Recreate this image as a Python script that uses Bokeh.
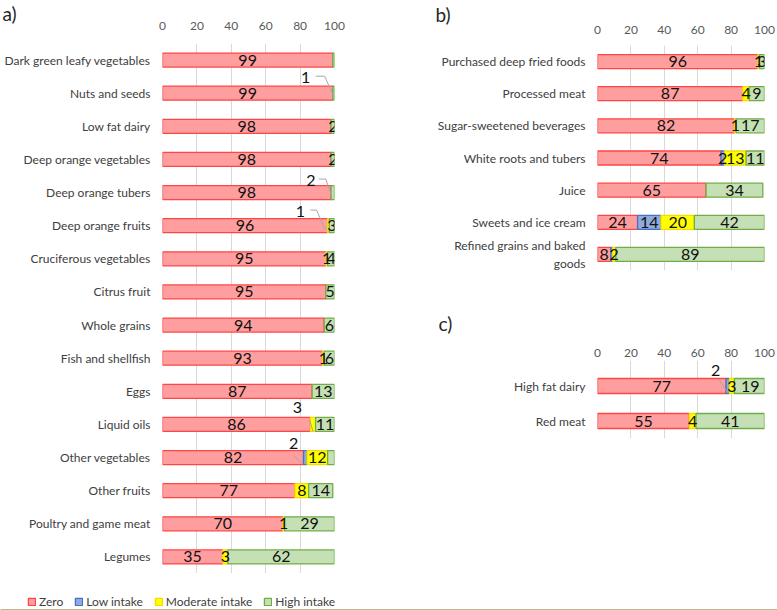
import numpy as np
from bokeh.plotting import figure
from bokeh.layouts import row, column
from bokeh.models import (ColumnDataSource, Range1d, Legend, LegendItem, FixedTicker)
from bokeh.embed import file_html
from bokeh.resources import INLINE
from bokeh.core.properties import value

# ---------------- data ----------------
series_names = ["Zero", "Low intake", "Moderate intake", "High intake"]
tick_values = [0, 20, 40, 60, 80, 100]

cats_a = ["Dark green leafy vegetables", "Nuts and seeds", "Low fat dairy",
          "Deep orange vegetables", "Deep orange tubers", "Deep orange fruits",
          "Cruciferous vegetables", "Citrus fruit", "Whole grains",
          "Fish and shellfish", "Eggs", "Liquid oils", "Other vegetables",
          "Other fruits", "Poultry and game meat", "Legumes"]
zero_a = [99, 99, 98, 98, 98, 96, 95, 95, 94, 93, 87, 86, 82, 77, 70, 35]
low_a = [0, 0, 0, 0, 0, 0, 0, 0, 0, 0, 0, 0, 2, 0, 0, 0]
mod_a = [0, 0, 0, 0, 0, 1, 1, 0, 0, 1, 0, 3, 12, 8, 1, 3]
high_a = [1, 1, 2, 2, 2, 3, 4, 5, 6, 6, 13, 11, 4, 14, 29, 62]

cats_b = ["Purchased deep fried foods", "Processed meat", "Sugar-sweetened beverages",
          "White roots and tubers", "Juice", "Sweets and ice cream",
          "Refined grains and baked\ngoods"]
zero_b = [96, 87, 82, 74, 65, 24, 8]
low_b = [0, 0, 0, 2, 0, 14, 1]
mod_b = [1, 4, 1, 13, 0, 20, 2]
high_b = [3, 9, 17, 11, 34, 42, 89]

cats_c = ["High fat dairy", "Red meat"]
zero_c = [77, 55]
low_c = [2, 0]
mod_c = [3, 4]
high_c = [19, 41]

# ---------------- style ----------------
FILLS = ["#FF9E9E", "#8FAADC", "#FFFF00", "#C5E0B4"]
LINES = ["#FF4545", "#4472C4", "#F5DC00", "#70AD47"]
FONT = "Lato"

# labels that are not printed inside the bar (row, series)
hidden_a = [("Dark green leafy vegetables", 3), ("Other vegetables", 3)]
hidden_b = [("Refined grains and baked\ngoods", 1)]
hidden_c = []
# callout labels: (row, series, label dx px, label dy px, leader points px), relative to segment centre
callouts_a = [
    ("Nuts and seeds", 3, -28, -16, [(-18, -17), (-9, -17), (0, 3)]),
    ("Deep orange tubers", 3, -22, -12.5, [(-14, -13.5), (-7, -13.5), (-1, 4)]),
    ("Deep orange fruits", 2, -28, -14.6, [(-18, -15.6), (-12, -15.6), (-3, 4.4)]),
    ("Liquid oils", 2, -15.5, -17, [(-3.5, -5), (0, 7)]),
    ("Other vegetables", 1, -11.5, -14, [(-11.5, -2), (-3, 6)]),
]
callouts_b = []
callouts_c = [
    ("High fat dairy", 1, -12, -15.5, [(-9, -7), (0, 7)]),
]


def panel(cats, series_vals, hidden, callouts, W, H, fl, fw, ft, ppy, extra_top,
          bar_px, tick_standoff, tag, tag_offset, tag_standoff):
    n = len(cats)
    ppx = fw / 100.0
    fh = n * ppy + extra_top
    ypos = [n - 1 - i for i in range(n)]
    p = figure(width=W, height=H, x_range=Range1d(0, 100),
               y_range=Range1d(-0.5, n - 0.5 + extra_top / ppy),
               x_axis_location="above", output_backend="svg", toolbar_location=None,
               min_border_left=fl, min_border_right=W - fl - fw,
               min_border_top=ft, min_border_bottom=int(round(H - ft - fh)))
    p.outline_line_color = None
    p.xaxis.ticker = FixedTicker(ticks=tick_values)
    p.xgrid.ticker = FixedTicker(ticks=tick_values)
    p.xgrid.grid_line_color = "#D9D9D9"
    p.ygrid.visible = False
    p.yaxis.ticker = FixedTicker(ticks=ypos)
    p.yaxis.major_label_overrides = {y: c for y, c in zip(ypos, cats)}
    for ax in (p.xaxis[0], p.yaxis[0]):
        ax.axis_line_color = None
        ax.major_tick_line_color = None
        ax.minor_tick_line_color = None
        ax.major_tick_out = 0
        ax.major_tick_in = 0
        ax.minor_tick_out = 0
        ax.minor_tick_in = 0
        ax.major_label_text_font = FONT
        ax.major_label_text_color = "#595959"
    p.xaxis.major_label_text_font_size = "12px"
    p.xaxis.major_label_standoff = tick_standoff
    p.yaxis.major_label_text_font_size = "12px"
    p.yaxis.major_label_text_color = "#404040"
    p.yaxis.major_label_standoff = 12

    # panel tag as title
    p.title.text = tag
    p.title.align = "left"
    p.title.offset = tag_offset
    p.title.standoff = tag_standoff
    p.title.vertical_align = "bottom"
    p.title.text_font = FONT
    p.title.text_font_size = "19px"
    p.title.text_font_style = "normal"
    p.title.text_color = "#262626"

    cum = np.zeros(n)
    seg_centre = {}
    for s, vals in enumerate(series_vals):
        v = np.array(vals, dtype=float)
        left = cum.copy()
        right = cum + v
        keep = v > 0
        src = ColumnDataSource(dict(y=[y for y, k in zip(ypos, keep) if k],
                                    left=left[keep], right=right[keep]))
        p.hbar(y="y", left="left", right="right", height=bar_px / ppy, source=src,
               fill_color=FILLS[s], line_color=LINES[s], line_width=1.3)
        for i, c in enumerate(cats):
            seg_centre[(c, s)] = ((left[i] + right[i]) / 2.0, ypos[i], int(v[i]))
        cum = right

    # in-bar value labels
    tx, ty, tt = [], [], []
    call_keys = [(c[0], c[1]) for c in callouts]
    for (c, s), (xc, yc, val) in seg_centre.items():
        if val <= 0 or (c, s) in hidden or (c, s) in call_keys:
            continue
        tx.append(xc)
        ty.append(yc)
        tt.append(str(val))
    p.text(x=tx, y=ty, text=tt, text_font=value(FONT), text_font_size="16px",
           text_align="center", text_baseline="middle", text_color="#111111")

    # callouts with leader lines
    cx, cy, ct, lxs, lys = [], [], [], [], []
    for c, s, dx, dy, pts in callouts:
        xc, yc, val = seg_centre[(c, s)]
        cx.append(xc + dx / ppx)
        cy.append(yc - dy / ppy)
        ct.append(str(val))
        lxs.append([xc + px / ppx for px, py in pts])
        lys.append([yc - py / ppy for px, py in pts])
    if callouts:
        p.multi_line(xs=lxs, ys=lys, line_color="#A6A6A6", line_width=1)
        p.text(x=cx, y=cy, text=ct, text_font=value(FONT), text_font_size="16px",
               text_align="center", text_baseline="middle", text_color="#111111")
    return p


# panel a: frame x 162..334, y 43..573
pa = panel(cats_a, [zero_a, low_a, mod_a, high_a], hidden_a, callouts_a,
           W=390, H=573, fl=162, fw=172, ft=43, ppy=530 / 16, extra_top=0, bar_px=14,
           tick_standoff=14, tag="a)", tag_offset=-160, tag_standoff=-12)
# panel b: frame x 597..764, y 45..270
pb = panel(cats_b, [zero_b, low_b, mod_b, high_b], hidden_b, callouts_b,
           W=387, H=292, fl=207, fw=167, ft=45, ppy=225 / 7, extra_top=0, bar_px=14,
           tick_standoff=12, tag="b)", tag_offset=-162, tag_standoff=-7)
# panel c: frame x 597..764, y 360..438 (page)
pc = panel(cats_c, [zero_c, low_c, mod_c, high_c], hidden_c, callouts_c,
           W=387, H=281, fl=207, fw=167, ft=68, ppy=35, extra_top=8, bar_px=15,
           tick_standoff=4, tag="c)", tag_offset=-159, tag_standoff=22)

# legend strip along the bottom (proxy renderers lie outside the visible range)
pl = figure(width=777, height=37, x_range=Range1d(0, 1), y_range=Range1d(0, 1),
            x_axis_type=None, y_axis_type=None, output_backend="svg",
            toolbar_location=None, min_border=0)
pl.outline_line_color = None
pl.grid.visible = False
leg_r = []
for s in range(4):
    leg_r.append(pl.hbar(y=[-5], left=[0], right=[1], height=0.5,
                         fill_color=FILLS[s], line_color=LINES[s], line_width=1.3))
lg = Legend(items=[LegendItem(label=series_names[i], renderers=[leg_r[i]]) for i in range(4)],
            orientation="horizontal", location=(27, 1),
            border_line_color=None, background_fill_alpha=0, padding=0, margin=0,
            spacing=11, glyph_width=9, glyph_height=9, label_standoff=3, label_height=16,
            label_text_font=FONT, label_text_font_size="12px", label_text_color="#404040")
pl.add_layout(lg, "center")

layout = column(row(pa, column(pb, pc)), pl)
open("out.html", "w").write(file_html(layout, INLINE))
